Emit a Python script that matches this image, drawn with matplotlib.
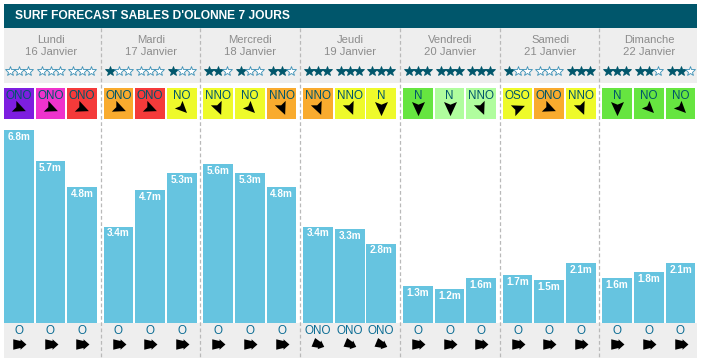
import matplotlib
matplotlib.use("Agg")
import matplotlib.pyplot as plt
from matplotlib.path import Path
from matplotlib.transforms import Affine2D

plt.rcParams['font.family'] = ['Liberation Sans', 'DejaVu Sans']

W, H = 703, 363

title = "SURF FORECAST SABLES D'OLONNE 7 JOURS"
days = ['Lundi', 'Mardi', 'Mercredi', 'Jeudi', 'Vendredi', 'Samedi', 'Dimanche']
dates = ['16 Janvier', '17 Janvier', '18 Janvier', '19 Janvier', '20 Janvier', '21 Janvier', '22 Janvier']

heights = [6.8, 5.7, 4.8, 3.4, 4.7, 5.3, 5.6, 5.3, 4.8, 3.4, 3.3, 2.8,
           1.3, 1.2, 1.6, 1.7, 1.5, 2.1, 1.6, 1.8, 2.1]
stars = [0, 0, 0, 1, 0, 1, 2, 1, 2, 3, 3, 3, 3, 3, 3, 1, 0, 3, 3, 2, 2]
wind_dir = ['ONO', 'ONO', 'ONO', 'ONO', 'ONO', 'NO', 'NNO', 'NO', 'NNO', 'NNO', 'NNO', 'N',
            'N', 'N', 'NNO', 'OSO', 'ONO', 'NNO', 'N', 'NO', 'NO']
wind_col = ['#7d1ee0', '#ee33cc', '#f43a3a', '#f9ab2e', '#f43a3a', '#eefa2b',
            '#eefa2b', '#eefa2b', '#f9ab2e', '#f9ab2e', '#eefa2b', '#eefa2b',
            '#66e540', '#b0fd9e', '#b0fd9e', '#eefa2b', '#f9ab2e', '#eefa2b',
            '#66e540', '#66e540', '#66e540']
swell_dir = ['O', 'O', 'O', 'O', 'O', 'O', 'O', 'O', 'O', 'ONO', 'ONO', 'ONO',
             'O', 'O', 'O', 'O', 'O', 'O', 'O', 'O', 'O']

bar_left = [4, 36, 67, 104, 135, 167, 203, 235, 267, 303, 335, 366, 403, 435, 466, 503, 534, 566, 602, 634, 666]
bar_right = [34, 65, 97, 133, 165, 197, 233, 265, 296, 333, 365, 396, 433, 464, 496, 532, 564, 596, 632, 664, 695]
day_sep = [100.5, 199.5, 299.5, 399.5, 499.5, 598.5]
day_center = [51, 151, 250, 350, 450, 550, 649]

bearing = {'N': 0, 'NNO': 337.5, 'NO': 315, 'ONO': 292.5, 'O': 270, 'OSO': 247.5}

DARK = '#00566b'
GREY = '#eeeeee'
BAR = '#66c4e0'
TXT = '#8c8c8c'

# dart pointing north, rotated to where the wind goes
dart = [(0, 1), (0.85, -0.85), (0, -0.5), (-0.85, -0.85), (0, 1)]
dart_codes = [Path.MOVETO, Path.LINETO, Path.LINETO, Path.LINETO, Path.CLOSEPOLY]
swell = [(0, 1), (0.75, 0.15), (0.5, 0.15), (0.75, -0.9), (-0.75, -0.9), (-0.5, 0.15), (-0.75, 0.15), (0, 1)]
swell_codes = [Path.MOVETO] + [Path.LINETO] * 6 + [Path.CLOSEPOLY]


def arrow(verts, codes, name):
    return Path(verts, codes).transformed(Affine2D().rotate_deg(-(bearing[name] + 180)))


fig = plt.figure(figsize=(W / 100, H / 100), dpi=100, facecolor='white')

# page furniture in pixels
ax = fig.add_axes([0, 0, 1, 1])
ax.set_xlim(0, W)
ax.set_ylim(H, 0)
ax.axis('off')

ax.fill_between([4, 697], 4, 28, color=DARK, lw=0)
ax.fill_between([4, 697], 28, 83, color=GREY, lw=0)
ax.fill_between([4, 697], 323, 358, color=GREY, lw=0)
ax.text(15, 16, title, color='white', fontsize=8.65, fontweight='bold', va='center', ha='left')

for x in day_sep:
    ax.plot([x, x], [28, 358], color='#b9b9b9', lw=0.9, dashes=(3, 2), zorder=5)

for d, date, x in zip(days, dates, day_center):
    ax.text(x, 40, d, color=TXT, fontsize=8.1, ha='center', va='center')
    ax.text(x, 52, date, color=TXT, fontsize=8.1, ha='center', va='center')

for i in range(len(heights)):
    l, r = bar_left[i], bar_right[i]
    c = (l + r) / 2
    ax.fill_between([l, r], 88, 118.5, color=wind_col[i], lw=0)
    ax.text(c, 96, wind_dir[i], color='#00566b', fontsize=8.4, ha='center', va='center', zorder=4)
    ax.plot(c, 108, marker=arrow(dart, dart_codes, wind_dir[i]), ms=11, color='black', mew=0, zorder=3)
    ax.text(c, 331, swell_dir[i], color='#0d6d94', fontsize=8.4, ha='center', va='center')
    ax.plot(c, 344, marker=arrow(swell, swell_codes, swell_dir[i]), ms=10, color='black', mew=0)
    for k in range(3):
        filled = k < stars[i]
        ax.plot(c - 9 + 9 * k, 70.5, marker='*', ms=7, mew=0.6,
                mfc=DARK if filled else 'white',
                mec=DARK if filled else '#3a8fb5')

# bars in metres
bx = fig.add_axes([0, (H - 323) / H, 1, 193 / H])
bx.set_xlim(0, W)
bx.set_ylim(0, max(heights))
bx.axis('off')
bx.patch.set_alpha(0)
centers = [(l + r) / 2 for l, r in zip(bar_left, bar_right)]
widths = [r - l for l, r in zip(bar_left, bar_right)]
bars = bx.bar(centers, heights, width=widths, color=BAR, lw=0)
for x, v in zip(centers, heights):
    bx.annotate(f'{v}m', (x, v), xytext=(0, -5), textcoords='offset points', color='white',
                fontsize=7.2, fontweight='bold', ha='center', va='center')

fig.savefig('out.png', dpi=100)
